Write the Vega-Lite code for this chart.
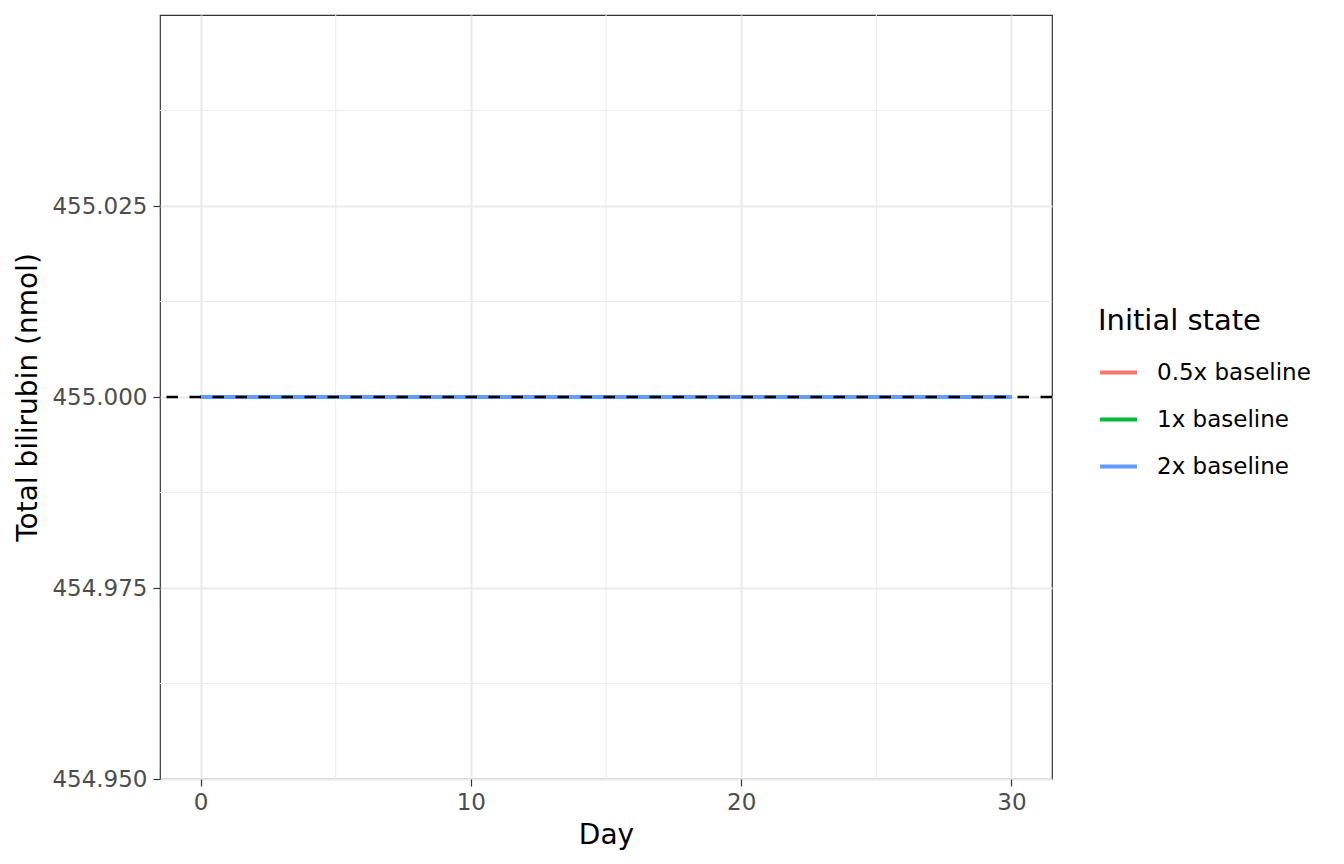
{
  "$schema": "https://vega.github.io/schema/vega-lite/v6.json",
  "autosize": "none",
  "width": 892,
  "height": 764,
  "padding": {"left": 160, "top": 15, "right": 292, "bottom": 85},
  "background": "white",
  "config": {
    "font": "DejaVu Sans",
    "view": {"stroke": "#333333", "strokeWidth": 1.2}
  },
  "datasets": {
    "sim": [
      {"day": 0, "bilirubin": 455.0, "state": "0.5x baseline"},
      {"day": 5, "bilirubin": 455.0, "state": "0.5x baseline"},
      {"day": 10, "bilirubin": 455.0, "state": "0.5x baseline"},
      {"day": 15, "bilirubin": 455.0, "state": "0.5x baseline"},
      {"day": 20, "bilirubin": 455.0, "state": "0.5x baseline"},
      {"day": 25, "bilirubin": 455.0, "state": "0.5x baseline"},
      {"day": 30, "bilirubin": 455.0, "state": "0.5x baseline"},
      {"day": 0, "bilirubin": 455.0, "state": "1x baseline"},
      {"day": 5, "bilirubin": 455.0, "state": "1x baseline"},
      {"day": 10, "bilirubin": 455.0, "state": "1x baseline"},
      {"day": 15, "bilirubin": 455.0, "state": "1x baseline"},
      {"day": 20, "bilirubin": 455.0, "state": "1x baseline"},
      {"day": 25, "bilirubin": 455.0, "state": "1x baseline"},
      {"day": 30, "bilirubin": 455.0, "state": "1x baseline"},
      {"day": 0, "bilirubin": 455.0, "state": "2x baseline"},
      {"day": 5, "bilirubin": 455.0, "state": "2x baseline"},
      {"day": 10, "bilirubin": 455.0, "state": "2x baseline"},
      {"day": 15, "bilirubin": 455.0, "state": "2x baseline"},
      {"day": 20, "bilirubin": 455.0, "state": "2x baseline"},
      {"day": 25, "bilirubin": 455.0, "state": "2x baseline"},
      {"day": 30, "bilirubin": 455.0, "state": "2x baseline"}
    ],
    "minorx": [{"day": 5}, {"day": 15}, {"day": 25}],
    "minory": [{"bilirubin": 454.9625}, {"bilirubin": 454.9875}, {"bilirubin": 455.0125}, {"bilirubin": 455.0375}],
    "reference": [{"bilirubin": 455.0}]
  },
  "layer": [
    {
      "data": {"name": "minorx"},
      "mark": {"type": "rule", "color": "#EBEBEB", "strokeWidth": 1.1},
      "encoding": {
        "x": {"field": "day", "type": "quantitative"}
      }
    },
    {
      "data": {"name": "minory"},
      "mark": {"type": "rule", "color": "#EBEBEB", "strokeWidth": 1.1},
      "encoding": {
        "y": {"field": "bilirubin", "type": "quantitative"}
      }
    },
    {
      "data": {"name": "sim"},
      "mark": {"type": "line", "strokeWidth": 4},
      "encoding": {
        "x": {
          "field": "day", "type": "quantitative",
          "scale": {"domain": [-1.5, 31.5], "nice": false, "zero": false},
          "axis": {
            "title": "Day", "values": [0, 10, 20, 30], "format": "d",
            "grid": true, "gridColor": "#EBEBEB", "gridWidth": 2.2,
            "domain": false, "ticks": true, "tickColor": "#333333", "tickSize": 7, "tickWidth": 1.2,
            "labelFontSize": 23, "labelColor": "#4D4D4D", "labelPadding": 5,
            "titleFontSize": 28, "titleFontWeight": "normal", "titleColor": "black", "titlePadding": 7
          }
        },
        "y": {
          "field": "bilirubin", "type": "quantitative",
          "scale": {"domain": [454.95, 455.05], "nice": false, "zero": false},
          "axis": {
            "title": "Total bilirubin (nmol)", "values": [454.95, 454.975, 455.0, 455.025], "format": ".3f",
            "grid": true, "gridColor": "#EBEBEB", "gridWidth": 2.2,
            "domain": false, "ticks": true, "tickColor": "#333333", "tickSize": 7, "tickWidth": 1.2,
            "labelFontSize": 23, "labelColor": "#4D4D4D", "labelPadding": 6,
            "titleFontSize": 28, "titleFontWeight": "normal", "titleColor": "black", "titlePadding": 9
          }
        },
        "color": {
          "field": "state", "type": "nominal",
          "scale": {"domain": ["0.5x baseline", "1x baseline", "2x baseline"], "range": ["#F8766D", "#00BA38", "#619CFF"]},
          "legend": {
            "title": "Initial state", "orient": "none", "legendX": 938, "legendY": 292,
            "symbolType": "stroke", "symbolSize": 1369, "symbolStrokeWidth": 4,
            "labelFontSize": 23, "labelColor": "black", "labelOffset": 18,
            "titleFontSize": 29, "titleFontWeight": "normal", "titleColor": "black", "titlePadding": 16,
            "rowPadding": 14
          }
        }
      }
    },
    {
      "data": {"name": "reference"},
      "mark": {"type": "rule", "color": "black", "strokeWidth": 2.5, "strokeDash": [11.5, 11.5]},
      "encoding": {
        "y": {"field": "bilirubin", "type": "quantitative"}
      }
    }
  ]
}
